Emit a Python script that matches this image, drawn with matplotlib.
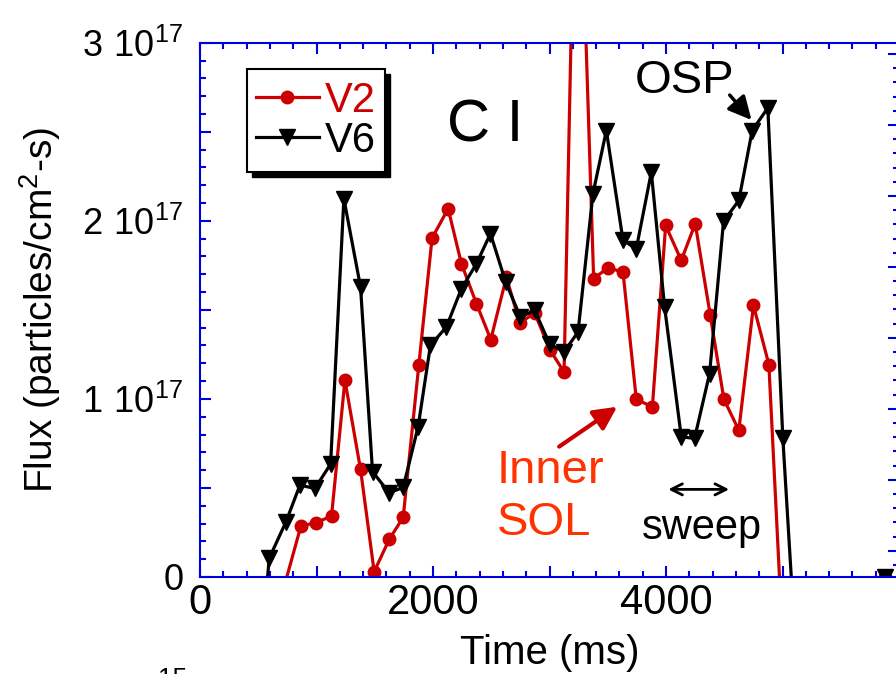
import matplotlib
matplotlib.use('Agg')
import matplotlib.pyplot as plt
from matplotlib.ticker import MultipleLocator, FuncFormatter
from matplotlib.patches import Rectangle

plt.rcParams['font.family'] = ['Liberation Sans', 'DejaVu Sans']
plt.rcParams['mathtext.fontset'] = 'custom'
plt.rcParams['mathtext.rm'] = 'Liberation Sans'

# C I flux, views V2 and V6 (flux in units of 1e17 particles/cm^2-s)
time_v2 = [703, 866, 995, 1129, 1244, 1378, 1495, 1624, 1744, 1878, 1992, 2130,
           2244, 2373, 2496, 2630, 2744, 2873, 3002, 3125, 3235, 3379, 3502, 3631,
           3745, 3883, 3997, 4131, 4251, 4380, 4497, 4625, 4751, 4883, 5000, 5880]
flux_v2 = [-0.10, 0.286, 0.305, 0.342, 1.105, 0.604, 0.03, 0.211, 0.335, 1.189, 1.903, 2.068,
           1.759, 1.535, 1.333, 1.684, 1.426, 1.482, 1.277, 1.151, 4.6, 1.675, 1.737, 1.712,
           0.998, 0.955, 1.974, 1.778, 1.984, 1.469, 0.998, 0.824, 1.525, 1.193, -0.34, 0.0]

time_v6 = [474, 594, 738, 858, 986, 1121, 1235, 1378, 1481, 1624, 1744, 1872, 1978,
           2115, 2244, 2373, 2493, 2624, 2750, 2873, 3002, 3125, 3245, 3373, 3488, 3631,
           3745, 3874, 3988, 4131, 4245, 4374, 4494, 4625, 4740, 4874, 5003, 5120, 5880]
flux_v6 = [-0.81, 0.105, 0.31, 0.516, 0.497, 0.634, 2.124, 1.628, 0.591, 0.473, 0.503, 0.843, 1.301,
           1.404, 1.619, 1.759, 1.928, 1.656, 1.46, 1.497, 1.307, 1.264, 1.376, 2.152, 2.507, 1.89,
           1.843, 2.273, 1.516, 0.787, 0.778, 1.142, 1.998, 2.114, 2.507, 2.634, 0.778, -0.48, 0.0]

time_labels = [0, 2000, 4000]

scale = 1e17
blue = '#0000dd'
red = '#cc0000'
orange = '#ff3300'

fig = plt.figure(figsize=(8.96, 6.74), dpi=100)
ax = fig.add_axes([200 / 896, 97 / 674, 699 / 896, 534.3 / 674])

ax.plot(time_v2, [f * scale for f in flux_v2], color=red, lw=2.3,
        marker='o', ms=9, label='V2')
ax.plot(time_v6, [f * scale for f in flux_v6], color='k', lw=2.3,
        marker='v', ms=11, label='V6')

ax.set_xlim(0, 6000)
ax.set_ylim(0, 3 * scale)


def time_label(v, pos):
    return '%d' % v if int(round(v)) in time_labels else ''


def flux_label(v, pos):
    n = v / scale
    if abs(n) < 1e-9:
        return '0'
    if abs(n - round(n)) < 1e-6:
        return r'$\mathregular{%d\ 10^{17}}$' % round(n)
    return ''


ax.xaxis.set_major_locator(MultipleLocator(1000))
ax.xaxis.set_minor_locator(MultipleLocator(200))
ax.xaxis.set_major_formatter(FuncFormatter(time_label))
ax.yaxis.set_major_locator(MultipleLocator(0.5 * scale))
ax.yaxis.set_minor_locator(MultipleLocator(0.1 * scale))
ax.yaxis.set_major_formatter(FuncFormatter(flux_label))

ax.tick_params(which='both', direction='in', top=True, right=False,
               color=blue, width=1.5)
ax.tick_params(which='major', length=8)
ax.tick_params(which='minor', length=4.5)
ax.tick_params(axis='x', labelsize=30, pad=4)
ax.tick_params(axis='y', labelsize=26, pad=12)
for s in ax.spines.values():
    s.set_color(blue)
    s.set_linewidth(1.5)

# right-hand ticks
axr = ax.twinx()
axr.set_ylim(-1.37, 6.16)
axr.yaxis.set_major_locator(MultipleLocator(1))
axr.yaxis.set_minor_locator(MultipleLocator(0.2))
axr.tick_params(which='both', direction='in', color=blue, width=1.5, labelright=False)
axr.tick_params(which='major', length=8)
axr.tick_params(which='minor', length=4.5)
for name, s in axr.spines.items():
    s.set_visible(name == 'right')
    s.set_color(blue)
    s.set_linewidth(1.5)

ax.set_xlabel('Time (ms)', fontsize=29, labelpad=8)
ax.set_ylabel(r'Flux (particles/cm$\mathregular{^2}$-s)', fontsize=28, labelpad=14)

# legend box with a solid drop shadow
W, H = 896, 674
ax.add_patch(Rectangle((252 / W, 1 - 177 / H), 138 / W, 103 / H, transform=fig.transFigure,
                       facecolor='k', edgecolor='k', zorder=6, clip_on=False))
ax.add_patch(Rectangle((247 / W, 1 - 172 / H), 138 / W, 103 / H, transform=fig.transFigure,
                       facecolor='white', edgecolor='k', lw=1.5, zorder=6, clip_on=False))
leg = ax.legend(loc='upper left', bbox_to_anchor=(256 / W, 1 - 81 / H),
                bbox_transform=fig.transFigure, frameon=False, fontsize=30,
                handlelength=1.5, handletextpad=0.15, labelspacing=0.0,
                borderpad=0, borderaxespad=0)
leg.set_zorder(7)
for t, c in zip(leg.get_texts(), [red, 'k']):
    t.set_color(c)

ax.text(2445, 2.444 * scale, 'C I', fontsize=43, ha='center', va='baseline')
ax.text(4161, 2.718 * scale, 'OSP', fontsize=34, ha='center', va='baseline')
ax.annotate('', xy=(4734, 2.566 * scale), xytext=(4547, 2.706 * scale),
            arrowprops=dict(arrowstyle='-|>,head_length=0.5,head_width=0.25',
                            mutation_scale=28, color='k', lw=2.5, shrinkA=0, shrinkB=0))

ax.text(2548, 0.528 * scale, 'Inner', fontsize=34, color=orange, ha='left', va='baseline')
ax.text(2548, 0.236 * scale, 'SOL', fontsize=34, color=orange, ha='left', va='baseline')
ax.annotate('', xy=(3581, 0.956 * scale), xytext=(3083, 0.732 * scale),
            arrowprops=dict(arrowstyle='-|>,head_length=0.5,head_width=0.25',
                            mutation_scale=28, color=red, lw=3, shrinkA=0, shrinkB=0))

ax.annotate('', xy=(4542, 0.492 * scale), xytext=(4019, 0.492 * scale),
            arrowprops=dict(arrowstyle='<->,head_length=0.4,head_width=0.2',
                            mutation_scale=20, color='k', lw=2, shrinkA=0, shrinkB=0))
ax.text(4307, 0.213 * scale, 'sweep', fontsize=30, ha='center', va='baseline')

fig.text(158 / W, 1 - 667 / H, '15', fontsize=19, ha='left', va='top')

fig.savefig('out.png', dpi=100)
